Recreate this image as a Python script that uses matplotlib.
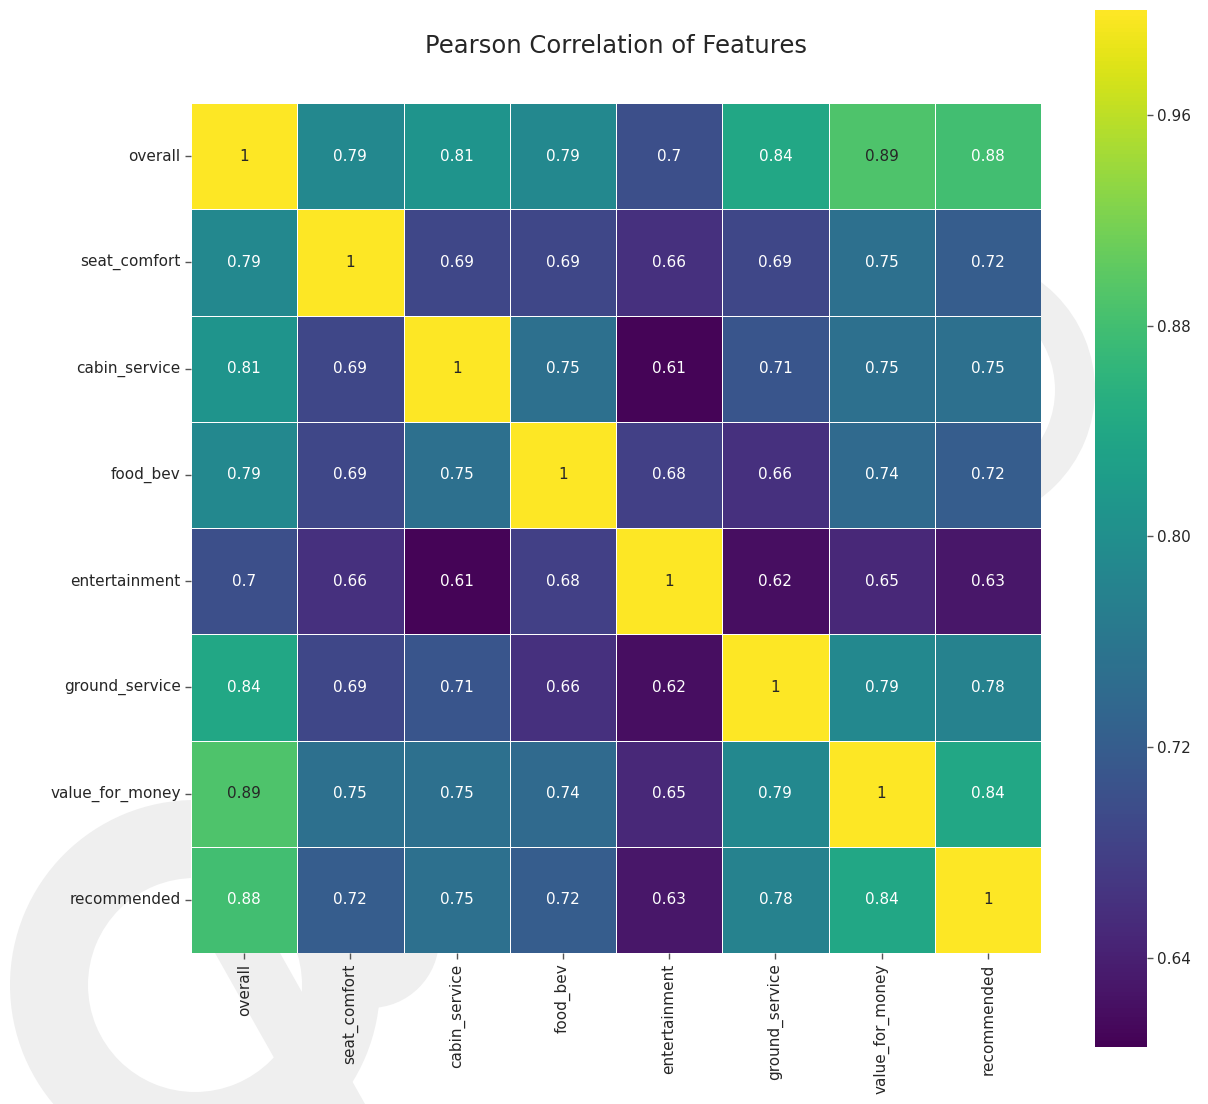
import numpy as np
import pandas as pd
import matplotlib
matplotlib.use('Agg')
import matplotlib.pyplot as plt
from matplotlib.patches import Wedge, Circle, Polygon
import seaborn as sns

features = ['overall', 'seat_comfort', 'cabin_service', 'food_bev',
            'entertainment', 'ground_service', 'value_for_money', 'recommended']

overall         = [1.00, 0.79, 0.81, 0.79, 0.70, 0.84, 0.89, 0.88]
seat_comfort    = [0.79, 1.00, 0.69, 0.69, 0.66, 0.69, 0.75, 0.72]
cabin_service   = [0.81, 0.69, 1.00, 0.75, 0.61, 0.71, 0.75, 0.75]
food_bev        = [0.79, 0.69, 0.75, 1.00, 0.68, 0.66, 0.74, 0.72]
entertainment   = [0.70, 0.66, 0.61, 0.68, 1.00, 0.62, 0.65, 0.63]
ground_service  = [0.84, 0.69, 0.71, 0.66, 0.62, 1.00, 0.79, 0.78]
value_for_money = [0.89, 0.75, 0.75, 0.74, 0.65, 0.79, 1.00, 0.84]
recommended     = [0.88, 0.72, 0.75, 0.72, 0.63, 0.78, 0.84, 1.00]

corr = pd.DataFrame([overall, seat_comfort, cabin_service, food_bev,
                     entertainment, ground_service, value_for_money, recommended],
                    index=features, columns=features)

W, H = 1208, 1104
fig = plt.figure(figsize=(W / 100, H / 100), dpi=100)
fig.patch.set_facecolor('white')

# pale logo shapes sitting behind the plot
bg = fig.add_axes([0, 0, 1, 1], zorder=-1)
bg.set_xlim(0, W)
bg.set_ylim(H, 0)
bg.axis('off')
wm = '#efefef'
bg.add_patch(Wedge((195, 985), 185, 0, 360, width=78, color=wm, lw=0))
bg.add_patch(Wedge((960, 390), 135, 0, 360, width=40, color=wm, lw=0))
bg.add_patch(Circle((370, 939), 69, color=wm, lw=0))
bg.add_patch(Polygon([(215, 953), (280, 953), (365, 1104), (300, 1104)],
                     closed=True, color=wm, lw=0))

ax = fig.add_axes([191 / W, 1 - 953 / H, 850 / W, 850 / H])
cax = fig.add_axes([1095 / W, 1 - 1047 / H, 52 / W, 1037 / H])

sns.heatmap(corr, ax=ax, cbar_ax=cax, cmap='viridis', vmin=0.606, vmax=1.0,
            annot=True, annot_kws={'size': 11}, linewidths=0.6, linecolor='white',
            square=True)

ax.set_title('Pearson Correlation of Features', fontsize=17.5, color='#262626', pad=36)
ax.tick_params(axis='both', length=4, width=1, color='#555555',
               labelsize=11, labelcolor='#262626')
ax.set_xticklabels(features, rotation=90)
ax.set_yticklabels(features, rotation=0)

cax.set_yticks([0.64, 0.72, 0.80, 0.88, 0.96])
cax.set_yticklabels(['0.64', '0.72', '0.80', '0.88', '0.96'])
cax.tick_params(length=4, width=1, color='#555555', labelsize=11, labelcolor='#262626')
cax.set_frame_on(False)
for c in cax.collections:
    c.set_edgecolor('face')

fig.savefig('out.png', dpi=100, facecolor='white')
